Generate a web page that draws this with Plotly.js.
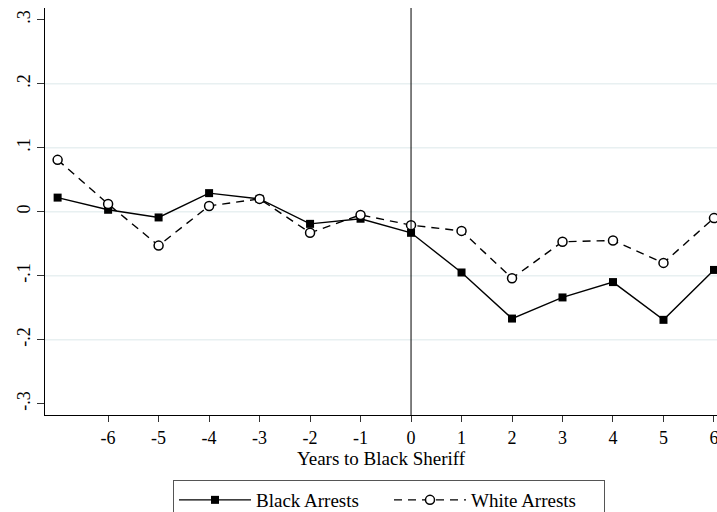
<!DOCTYPE html>
<html><head><meta charset="utf-8">
<script src="https://cdn.plot.ly/plotly-3.0.1.min.js"></script>
<style>body{margin:0;background:#fff}#c{width:717px;height:512px}</style>
</head><body><div id="c"></div>
<script>
var years = [-7,-6,-5,-4,-3,-2,-1,0,1,2,3,4,5,6];
var blackArrests = [0.022,0.003,-0.009,0.029,0.020,-0.019,-0.011,-0.033,-0.095,-0.167,-0.134,-0.110,-0.169,-0.091];
var whiteArrests = [0.081,0.012,-0.053,0.009,0.020,-0.033,-0.005,-0.021,-0.030,-0.104,-0.047,-0.045,-0.080,-0.010];
var xTicks = [-6,-5,-4,-3,-2,-1,0,1,2,3,4,5,6];
var xTickText = ['-6','-5','-4','-3','-2','-1','0','1','2','3','4','5','6'];
var yTicks = [-0.3,-0.2,-0.1,0,0.1,0.2,0.3];
var yTickText = ['-.3','-.2','-.1','0','.1','.2','.3'];
var yGrid = [-0.2,-0.1,0,0.1,0.2];

var font = 'Liberation Serif';
var traces = [
 {x: years, y: blackArrests, name: 'Black Arrests', mode: 'lines+markers', cliponaxis: false,
  line: {color: '#000', width: 1.4}, marker: {symbol: 'square', size: 8, color: '#000'}},
 {x: years, y: whiteArrests, name: 'White Arrests', mode: 'lines+markers', cliponaxis: false,
  line: {color: '#000', width: 1.4, dash: '8px,6px'},
  marker: {symbol: 'circle', size: 9, color: '#fff', line: {width: 1.5, color: '#000'}}}
];
var shapes = yGrid.map(function (v) {
  return {type: 'line', xref: 'paper', yref: 'y', x0: 0, x1: 1, y0: v, y1: v, layer: 'below',
          line: {color: '#e8f0f1', width: 1.5}};
});
shapes.push({type: 'line', xref: 'x', yref: 'paper', x0: 0, x1: 0, y0: 0, y1: 1, line: {color: '#000', width: 1}});
var layout = {
 width: 717, height: 512,
 margin: {l: 45, r: 0, t: 8, b: 97, autoexpand: false},
 paper_bgcolor: '#fff', plot_bgcolor: '#fff',
 font: {family: font, size: 18, color: '#000'},
 showlegend: true,
 xaxis: {range: [-7.25, 6.06], tickvals: xTicks, ticktext: xTickText, ticks: 'outside', ticklen: 6, tickcolor: '#333',
   showgrid: false, zeroline: false, showline: true, linecolor: '#000', linewidth: 1, automargin: false,
   ticklabeloverflow: 'allow',
   title: {text: 'Years to Black Sheriff', standoff: 0, font: {size: 19}}, tickfont: {size: 18}},
 yaxis: {range: [-0.3177, 0.3183], tickvals: yTicks, ticktext: yTickText, tickangle: -90, automargin: false,
   ticks: 'outside', ticklen: 7, tickcolor: '#333', showgrid: false,
   zeroline: false, showline: true, linecolor: '#000', linewidth: 1, tickfont: {size: 18}},
 shapes: shapes,
 legend: {orientation: 'h', x: (173 - 45) / 672, xanchor: 'left', y: (415 - 480) / 407, yanchor: 'top',
   bordercolor: '#555', borderwidth: 1, font: {size: 19}, itemwidth: 72, entrywidth: 128, traceorder: 'normal'}
};
Plotly.newPlot('c', traces, layout, {displayModeBar: false, staticPlot: true});
</script></body></html>
